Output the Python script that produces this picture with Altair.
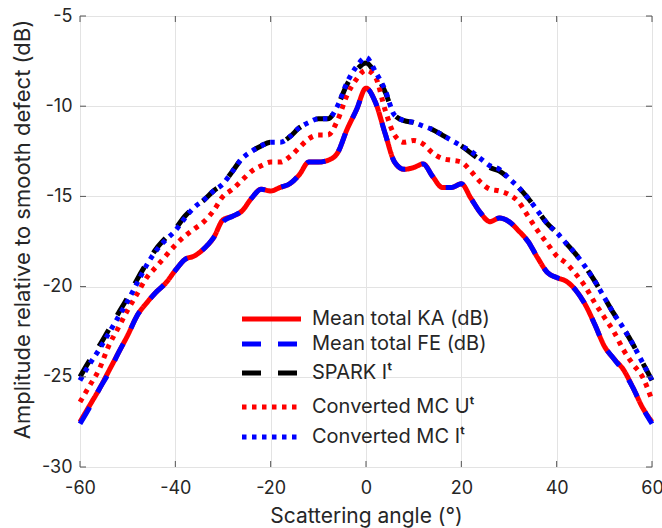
import altair as alt
import pandas as pd

angles = list(range(-60, 61, 2))

ka = [-27.5, -26.6, -25.7, -24.7, -23.7, -22.7, -21.6, -20.9, -20.3, -19.8,
      -19.1, -18.5, -18.3, -17.9, -17.3, -16.3, -16.1, -15.8, -15.1, -14.6,
      -14.7, -14.5, -14.3, -13.8, -13.1, -13.1, -13.0, -12.6, -11.3, -10.2,
      -9.0, -9.8, -11.5, -13.1, -13.5, -13.4, -13.2, -13.9, -14.5, -14.5,
      -14.3, -15.1, -15.9, -16.4, -16.2, -16.4, -16.9, -17.5, -18.4, -19.2,
      -19.5, -19.7, -20.2, -21.0, -22.1, -23.3, -24.0, -24.6, -25.6, -26.7,
      -27.5]

fe = [-27.6, -26.7, -25.7, -24.8, -23.7, -22.7, -21.6, -20.9, -20.3, -19.8,
      -19.1, -18.5, -18.3, -17.9, -17.3, -16.4, -16.1, -15.8, -15.1, -14.6,
      -14.7, -14.5, -14.3, -13.8, -13.1, -13.1, -13.0, -12.6, -11.3, -10.2,
      -9.0, -9.8, -11.5, -13.1, -13.5, -13.4, -13.2, -13.9, -14.5, -14.5,
      -14.3, -15.1, -15.9, -16.4, -16.2, -16.4, -16.9, -17.5, -18.4, -19.2,
      -19.5, -19.7, -20.2, -21.0, -22.1, -23.3, -24.0, -24.7, -25.6, -26.7,
      -27.6]

spark = [-25.0, -24.1, -23.3, -22.4, -21.5, -20.6, -19.6, -18.7, -17.9, -17.3,
         -16.8, -16.1, -15.6, -15.2, -14.7, -14.3, -13.6, -12.9, -12.5, -12.2,
         -12.0, -12.0, -11.7, -11.2, -10.9, -10.7, -10.7, -10.0, -8.8, -8.0,
         -7.6, -8.2, -9.2, -10.5, -10.8, -10.9, -11.1, -11.3, -11.6, -11.9,
         -12.2, -12.6, -13.0, -13.4, -13.6, -14.0, -14.5, -15.1, -15.8, -16.5,
         -17.0, -17.6, -18.2, -18.9, -19.7, -20.6, -21.5, -22.3, -23.2, -24.2,
         -25.2]

mc_u = [-26.4, -25.5, -24.6, -23.3, -22.3, -21.3, -20.4, -19.5, -18.9, -18.3,
        -17.7, -17.2, -16.8, -16.4, -15.8, -15.0, -14.6, -14.1, -13.6, -13.3,
        -13.1, -13.1, -12.8, -12.3, -11.8, -11.6, -11.6, -10.8, -9.4, -8.5,
        -8.0, -8.4, -10.2, -11.6, -12.0, -11.9, -12.1, -12.6, -12.9, -13.0,
        -13.1, -13.6, -14.2, -14.6, -14.7, -14.9, -15.3, -16.1, -16.9, -17.6,
        -18.3, -18.7, -19.3, -20.0, -20.9, -21.7, -22.5, -23.5, -24.3, -25.0,
        -26.3]

mc_i = [-25.2, -24.3, -23.5, -22.6, -21.7, -20.8, -19.8, -18.8, -18.0, -17.4,
        -16.9, -16.2, -15.6, -15.2, -14.7, -14.3, -13.6, -12.9, -12.5, -12.2,
        -12.0, -12.0, -11.7, -11.2, -10.9, -10.7, -10.7, -10.0, -8.7, -7.8,
        -7.3, -8.1, -9.1, -10.5, -10.8, -10.9, -11.1, -11.3, -11.6, -11.9,
        -12.2, -12.5, -12.9, -13.3, -13.5, -14.0, -14.5, -15.1, -15.8, -16.5,
        -17.0, -17.6, -18.2, -18.9, -19.7, -20.6, -21.5, -22.3, -23.2, -24.2,
        -25.2]

series_names = ["Mean total KA (dB)", "Mean total FE (dB)", "SPARK I\u1d57",
                "Converted MC U\u1d57", "Converted MC I\u1d57"]
series_values = [ka, fe, spark, mc_u, mc_i]
series_colors = ["#ff0000", "#0000ff", "#000000", "#ff0000", "#0000ff"]
series_dash = [[1, 0], [19, 17], [19, 17], [4.5, 5.5], [4.5, 5.5]]

x_ticks = [-60, -40, -20, 0, 20, 40, 60]
y_ticks = [-30, -25, -20, -15, -10, -5]

rows = []
for order, (name, vals) in enumerate(zip(series_names, series_values)):
    for a, v in zip(angles, vals):
        rows.append({"series": name, "order": order, "angle": a, "value": v})
df = pd.DataFrame(rows)

# layout of the in-plot legend (pixels inside the plot area)
W, H = 572, 451
LEG_ROW_Y = [303, 328, 357, 391, 421]
LEG_X0, LEG_X1, LEG_TX = 162, 221, 232
leg_df = pd.DataFrame({"series": series_names, "ly": LEG_ROW_Y})

FONT = "Inter"
TXT = "#262626"

xscale = alt.Scale(domain=[-60, 60], nice=False, zero=False)
yscale = alt.Scale(domain=[-30, -5], nice=False, zero=False)
cscale = alt.Scale(domain=series_names, range=series_colors)
dscale = alt.Scale(domain=series_names, range=series_dash)

lines = alt.Chart(df).mark_line(strokeWidth=5, strokeCap="butt", strokeJoin="round",
                                interpolate="monotone").encode(
    x=alt.X("angle:Q", scale=xscale,
            axis=alt.Axis(values=x_ticks, title="Scattering angle (°)", grid=True,
                          gridColor="#e3e3e3", domain=False, ticks=False,
                          labelFontSize=18, titleFontSize=21, labelFont=FONT,
                          titleFont=FONT, labelColor=TXT, titleColor=TXT,
                          titleFontWeight="normal", labelPadding=12, titlePadding=8,
                          labelFlush=False, labelExpr="'' + datum.value")),
    y=alt.Y("value:Q", scale=yscale,
            axis=alt.Axis(values=y_ticks, title="Amplitude relative to smooth defect (dB)",
                          grid=True, gridColor="#e3e3e3", domain=False, ticks=False,
                          labelFontSize=18, titleFontSize=22, labelFont=FONT,
                          titleFont=FONT, labelColor=TXT, titleColor=TXT,
                          titleFontWeight="normal", labelPadding=8, titlePadding=7,
                          titleY=213,
                          labelFlush=False, labelExpr="'' + datum.value")),
    color=alt.Color("series:N", scale=cscale, legend=None),
    strokeDash=alt.StrokeDash("series:N", scale=dscale, legend=None),
    order=alt.Order("order:Q"),
    detail="series:N",
)

leg_lines = alt.Chart(leg_df).mark_rule(strokeWidth=5, strokeCap="butt").encode(
    x=alt.value(LEG_X0), x2=alt.value(LEG_X1),
    y=alt.Y("ly:Q", scale=None),
    color=alt.Color("series:N", scale=cscale, legend=None),
    strokeDash=alt.StrokeDash("series:N", scale=dscale, legend=None),
)
leg_text = alt.Chart(leg_df).mark_text(align="left", baseline="middle", fontSize=20,
                                       font=FONT, color=TXT).encode(
    x=alt.value(LEG_TX), y=alt.Y("ly:Q", scale=None), text="series:N")

xt = pd.DataFrame({"t": x_ticks})
yt = pd.DataFrame({"t": y_ticks})
tick_bottom = alt.Chart(xt).mark_rule(color="#555", strokeWidth=1).encode(
    x=alt.X("t:Q", scale=xscale), y=alt.value(H), y2=alt.value(H - 6))
tick_top = alt.Chart(xt).mark_rule(color="#555", strokeWidth=1).encode(
    x=alt.X("t:Q", scale=xscale), y=alt.value(0), y2=alt.value(6))
tick_left = alt.Chart(yt).mark_rule(color="#555", strokeWidth=1).encode(
    y=alt.Y("t:Q", scale=yscale), x=alt.value(0), x2=alt.value(6))
tick_right = alt.Chart(yt).mark_rule(color="#555", strokeWidth=1).encode(
    y=alt.Y("t:Q", scale=yscale), x=alt.value(W), x2=alt.value(W - 6))

chart = alt.layer(lines, leg_lines, leg_text, tick_bottom, tick_top, tick_left, tick_right).properties(
    width=W, height=H,
    autosize=alt.AutoSizeParams(type="none"),
    padding={"left": 80, "top": 16, "right": 10, "bottom": 61},
).configure_view(stroke="#666", strokeWidth=1).configure(background="white")

chart.save("out.html", embed_options={"renderer": "svg", "actions": False})
